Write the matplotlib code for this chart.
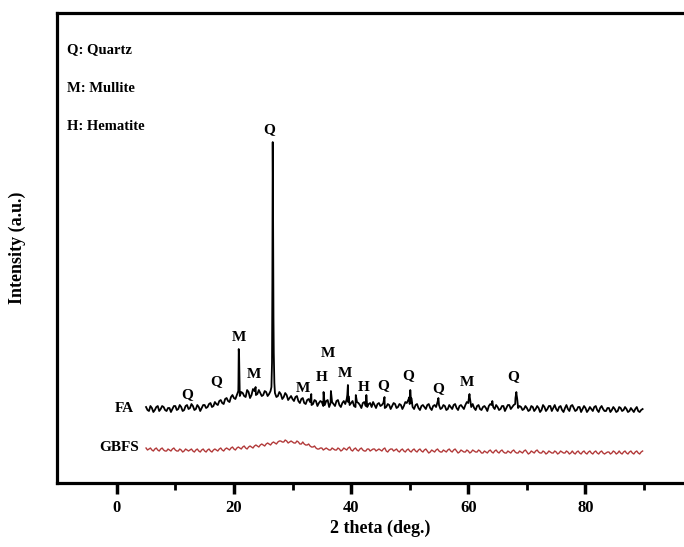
import numpy as np
import matplotlib
matplotlib.use("Agg")
import matplotlib.pyplot as plt

plt.rcParams['font.family'] = ['Liberation Serif', 'DejaVu Serif']
plt.rcParams['font.weight'] = 'bold'

# ---- data (2 theta in degrees, intensity in arbitrary units) ----
grid_start, grid_step = 5.0, 0.5

# FA values at 5.0, 5.5, ... 89.5
fa_base = [
    76, 72, 75, 73, 77, 74, 76, 72, 75, 74,
    77, 74, 76, 73, 78, 75, 77, 74, 76, 75,
    78, 76, 80, 77, 79, 82, 80, 84, 82, 86,
    85, 88, 87, 90, 86, 91, 88, 92, 89, 90,
    88, 91, 89, 120, 90, 87, 89, 86, 88, 85,
    84, 86, 82, 84, 80, 83, 81, 79, 82, 80,
    81, 78, 83, 80, 79, 82, 78, 80, 79, 81,
    80, 77, 81, 78, 80, 77, 79, 76, 78, 79,
    77, 80, 76, 78, 77, 79, 76, 78, 77, 80,
    79, 76, 78, 75, 77, 76, 78, 75, 77, 76,
    78, 75, 77, 74, 76, 78, 75, 77, 76, 78,
    80, 76, 75, 77, 74, 76, 75, 77, 78, 74,
    76, 74, 77, 75, 78, 76, 79, 75, 76, 74,
    75, 73, 76, 74, 75, 73, 76, 74, 77, 75,
    74, 76, 73, 75, 74, 77, 75, 73, 76, 74,
    75, 73, 74, 76, 73, 75, 74, 72, 75, 73,
    74, 72, 75, 73, 74, 72, 73, 74, 72, 73,
]
# FA values at 5.25, 5.75, ... 89.75
fa_mid = [
    73, 77, 71, 76, 72, 77, 73, 75, 71, 77,
    73, 78, 72, 77, 74, 79, 73, 78, 72, 78,
    75, 79, 76, 81, 78, 83, 79, 85, 81, 88,
    84, 92, 91, 87, 93, 85, 94, 88, 93, 87,
    92, 87, 92, 165, 86, 91, 84, 90, 83, 87,
    82, 87, 80, 85, 79, 84, 78, 83, 77, 82,
    77, 82, 76, 81, 77, 83, 76, 82, 84, 78,
    82, 76, 80, 75, 81, 76, 80, 81, 75, 80,
    78, 75, 79, 74, 80, 75, 79, 74, 81, 83,
    80, 74, 79, 73, 78, 74, 79, 73, 78, 81,
    74, 78, 73, 78, 74, 79, 73, 78, 74, 81,
    86, 79, 73, 78, 73, 77, 72, 79, 76, 78,
    73, 77, 72, 78, 74, 78, 88, 77, 73, 77,
    72, 77, 72, 77, 71, 78, 72, 77, 72, 78,
    72, 77, 71, 78, 72, 78, 72, 76, 71, 77,
    71, 76, 72, 77, 71, 77, 72, 75, 71, 76,
    71, 76, 72, 76, 71, 75, 71, 76, 71, 74,
]

fa_peak_theta = [20.77, 20.82, 20.88, 20.95,
                 23.7,
                 26.4, 26.56, 26.62, 26.66, 26.72, 26.8, 26.9,
                 33.2, 35.3, 36.55,
                 39.35, 39.45, 39.55,
                 40.8, 42.6, 45.7,
                 49.95, 50.1, 50.27,
                 54.9,
                 60.05, 60.2, 60.35,
                 64.1,
                 68.05, 68.2, 68.35]
fa_peak_int = [100, 134, 128, 100,
               96,
               96, 200, 341, 300, 200, 130, 100,
               89, 91, 92,
               88, 98, 87,
               88, 88, 86,
               86, 93, 85,
               85,
               83, 89, 82,
               82,
               85, 91, 84]

gbfs_base = [
    35, 34, 33, 34, 33, 34, 33, 32, 33, 34,
    33, 32, 33, 32, 33, 33, 32, 33, 32, 33,
    32, 33, 32, 33, 33, 34, 33, 34, 34, 35,
    34, 35, 35, 36, 35, 36, 36, 37, 37, 38,
    38, 39, 39, 40, 40, 41, 42, 41, 42, 41,
    41, 40, 41, 39, 39, 38, 37, 36, 35, 34,
    35, 34, 34, 33, 34, 33, 34, 33, 34, 35,
    33, 34, 33, 34, 33, 32, 34, 33, 34, 33,
    33, 34, 32, 33, 34, 33, 32, 33, 32, 33,
    32, 33, 32, 33, 32, 33, 32, 31, 32, 33,
    32, 31, 32, 33, 32, 33, 32, 31, 32, 31,
    32, 31, 32, 31, 32, 30, 31, 32, 31, 32,
    31, 32, 31, 30, 31, 32, 31, 30, 31, 32,
    31, 30, 31, 32, 31, 30, 31, 30, 31, 30,
    31, 30, 31, 30, 31, 30, 30, 31, 30, 31,
    30, 31, 30, 31, 30, 31, 30, 30, 31, 30,
    31, 30, 30, 31, 30, 31, 30, 31, 30, 31,
]
gbfs_mid = [
    33, 35, 32, 35, 32, 35, 32, 34, 32, 35,
    32, 34, 31, 34, 32, 34, 31, 34, 31, 34,
    31, 34, 31, 34, 32, 35, 32, 35, 33, 36,
    33, 36, 34, 37, 34, 37, 35, 38, 36, 39,
    37, 40, 38, 41, 39, 42, 41, 43, 40, 42,
    40, 42, 39, 41, 38, 39, 36, 37, 34, 35,
    33, 35, 33, 35, 33, 35, 32, 35, 33, 36,
    32, 35, 32, 35, 32, 34, 32, 34, 32, 34,
    32, 35, 31, 34, 32, 34, 31, 34, 31, 34,
    31, 34, 31, 34, 31, 34, 30, 33, 31, 34,
    31, 33, 31, 34, 31, 34, 30, 33, 31, 33,
    30, 33, 31, 33, 30, 32, 30, 33, 30, 33,
    30, 33, 30, 32, 30, 33, 30, 32, 30, 33,
    29, 32, 30, 33, 30, 32, 29, 32, 30, 32,
    29, 32, 30, 32, 29, 32, 29, 32, 29, 32,
    29, 32, 29, 32, 29, 32, 29, 31, 29, 32,
    29, 32, 29, 32, 29, 32, 29, 32, 29, 32,
]

phase_labels = ["Q", "Q", "M", "M", "Q", "M", "H", "M", "M", "H", "Q",
                "Q", "Q", "M", "Q"]
phase_theta = [12.1, 16.9, 20.8, 23.5, 26.1, 31.7, 35.0, 36.0, 38.9, 42.1, 45.4,
               49.7, 54.8, 59.7, 67.6]
phase_y = [88, 101, 146, 109, 353, 95, 106, 130, 110, 96, 97,
           107, 94, 101, 106]

legend_lines = ["Q: Quartz", "M: Mullite", "H: Hematite"]

# ---- build series ----
grid_theta = grid_start + grid_step * np.arange(len(fa_base))
mid_theta = grid_theta + grid_step / 2
fa_theta = np.concatenate([grid_theta, mid_theta, fa_peak_theta])
fa_int = np.concatenate([fa_base, fa_mid, fa_peak_int])
order = np.argsort(fa_theta)
fa_theta, fa_int = fa_theta[order], fa_int[order]

gb_theta = np.concatenate([grid_theta, mid_theta])
gb_int = np.concatenate([gbfs_base, gbfs_mid])
order = np.argsort(gb_theta)
gb_theta, gb_int = gb_theta[order], gb_int[order]

fig = plt.figure(figsize=(6.84, 5.47), dpi=100)
ax = fig.add_axes([0.0833, 0.117, 0.944, 0.859])

ax.plot(fa_theta, fa_int, color='black', lw=1.3)
ax.plot(gb_theta, gb_int, color='#b23a3a', lw=1.0)

ax.set_xlim(-10.2, 100)
ax.set_ylim(0, 470)

for lab, t, y in zip(phase_labels, phase_theta, phase_y):
    ax.text(t, y, lab, ha='center', va='center', fontsize=11, fontweight='bold')

ax.text(3.0, 75, "FA", ha='right', va='center', fontsize=11, fontweight='bold')
ax.text(3.8, 36, "GBFS", ha='right', va='center', fontsize=11, fontweight='bold')

for i, s in enumerate(legend_lines):
    ax.text(-8.5, 433 - i * 38, s, ha='left', va='center', fontsize=10.5, fontweight='bold')

ax.set_xticks([0, 20, 40, 60, 80])
ax.set_xticks([10, 30, 50, 70, 90], minor=True)
ax.set_yticks([])
ax.tick_params(axis='x', which='major', direction='out', length=8, width=2.5,
               labelsize=12, pad=4)
ax.tick_params(axis='x', which='minor', direction='out', length=5, width=2.0)
for lbl in ax.get_xticklabels():
    lbl.set_fontweight('bold')
for sp in ax.spines.values():
    sp.set_linewidth(2.3)

ax.set_xlabel("2 theta (deg.)", fontsize=13, fontweight='bold', labelpad=3)
ax.set_ylabel("Intensity (a.u.)", fontsize=13, fontweight='bold', labelpad=22)

fig.savefig("out.png", dpi=100)
